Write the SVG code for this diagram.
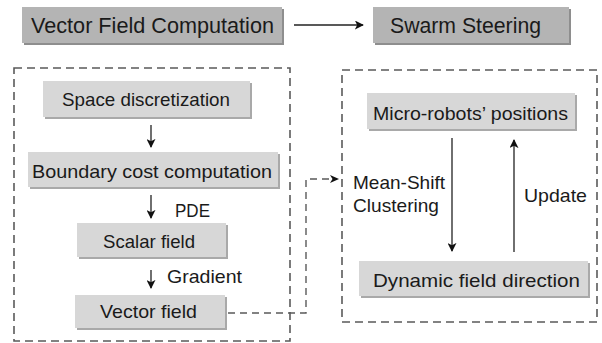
<svg xmlns="http://www.w3.org/2000/svg" width="602" height="343" viewBox="0 0 602 343">
<style>
text{font-family:"Liberation Sans",Arial,sans-serif;fill:#1a1a1a}
.t{font-size:19px}
.big{font-size:22px}
.top{fill:#b4b4b4}
.topsh{fill:#8e8e8e}
.box{fill:#d7d7d7}
.sh{fill:#a9a9a9}
.dash{fill:none;stroke:#5a5a5a;stroke-width:1.6;stroke-dasharray:8 5}
.arr{stroke:#222;stroke-width:1.3;fill:none;marker-end:url(#ah)}
.darr{fill:none;stroke:#5a5a5a;stroke-width:1.4;stroke-dasharray:7 5}
</style>
<defs>
<marker id="ah" viewBox="0 0 10 10" refX="9" refY="5" markerWidth="9" markerHeight="9" markerUnits="userSpaceOnUse" orient="auto">
<path d="M0,0 L10,5 L0,10 L2.5,5 Z" fill="#111"/>
</marker>
</defs>
<g id="frames">
<rect class="dash" x="14" y="68" width="276" height="273"/>
<rect class="dash" x="342" y="70" width="255" height="252"/>
</g>
<g id="vfc"><rect class="topsh" x="24" y="9" width="260" height="36"/><rect class="top" x="22" y="7" width="260" height="36"/><text class="big" x="31" y="33" textLength="243" lengthAdjust="spacingAndGlyphs">Vector Field Computation</text></g>
<g id="ss"><rect class="topsh" x="375" y="9" width="196" height="36"/><rect class="top" x="373" y="7" width="196" height="36"/><text class="big" x="390" y="33" textLength="151" lengthAdjust="spacingAndGlyphs">Swarm Steering</text></g>
<g id="space"><rect class="sh" x="45" y="83" width="207" height="36"/><rect class="box" x="43" y="81" width="207" height="36"/><text class="t" x="62" y="106" textLength="168" lengthAdjust="spacingAndGlyphs">Space discretization</text></g>
<g id="boundary"><rect class="sh" x="30" y="154" width="250" height="35"/><rect class="box" x="28" y="152" width="250" height="35"/><text class="t" x="32" y="178" textLength="240" lengthAdjust="spacingAndGlyphs">Boundary cost computation</text></g>
<g id="scalar"><rect class="sh" x="79" y="225" width="149" height="34"/><rect class="box" x="77" y="223" width="149" height="34"/><text class="t" x="103" y="248" textLength="92" lengthAdjust="spacingAndGlyphs">Scalar field</text></g>
<g id="vector"><rect class="sh" x="77" y="297" width="150" height="33"/><rect class="box" x="75" y="295" width="150" height="33"/><text class="t" x="100" y="318" textLength="97" lengthAdjust="spacingAndGlyphs">Vector field</text></g>
<g id="micro"><rect class="sh" x="369" y="95" width="208" height="36"/><rect class="box" x="367" y="93" width="208" height="36"/><text class="t" x="373" y="120" textLength="195" lengthAdjust="spacingAndGlyphs">Micro-robots’ positions</text></g>
<g id="dynamic"><rect class="sh" x="361" y="263" width="229" height="35"/><rect class="box" x="359" y="261" width="229" height="35"/><text class="t" x="373" y="287" textLength="207" lengthAdjust="spacingAndGlyphs">Dynamic field direction</text></g>
<g id="connectors">
<line class="arr" x1="294" y1="25" x2="363" y2="25"/>
<line class="arr" x1="151" y1="125" x2="151" y2="147"/>
<line class="arr" x1="151" y1="195" x2="151" y2="218"/>
<line class="arr" x1="151" y1="270" x2="151" y2="288"/>
<line class="arr" x1="452" y1="138" x2="452" y2="251"/>
<line class="arr" x1="514" y1="252" x2="514" y2="140"/>
<path class="darr" d="M228,313 H306 V179 H330"/>
<path d="M330,175 L339,179 L330,183 L332.5,179 Z" fill="#111"/>
</g>
<g id="labels">
<text class="t" x="175" y="217" textLength="35" lengthAdjust="spacingAndGlyphs">PDE</text>
<text class="t" x="167" y="283" textLength="75" lengthAdjust="spacingAndGlyphs">Gradient</text>
<text class="t" x="353" y="189" textLength="92" lengthAdjust="spacingAndGlyphs">Mean-Shift</text>
<text class="t" x="353" y="212" textLength="86" lengthAdjust="spacingAndGlyphs">Clustering</text>
<text class="t" x="524" y="202" textLength="63" lengthAdjust="spacingAndGlyphs">Update</text>
</g>
</svg>
